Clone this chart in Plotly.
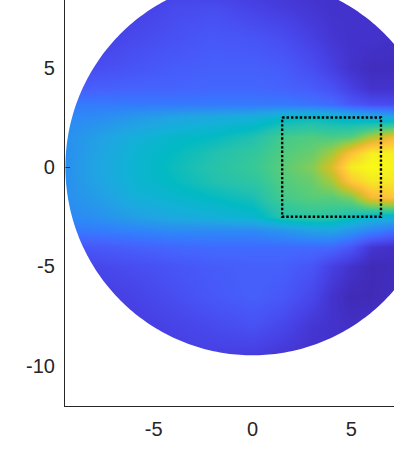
# %% Imports
import numpy as np
import plotly.graph_objects as go

# %% Data
x_grid = [-9.5, -8, -6, -4, -2, 0, 1.5, 3, 4, 5, 6, 7.5]
y_grid = [9, 8, 6.5, 5, 4, 3.2, 2.5, 1.5, 0.7, 0, -0.7, -1.5, -2.5, -3.2, -4, -5, -6.5, -8, -9.5]

z_field = [
    [.06, .07, .08, .09, .08, .07, .06, .05, .05, .05, .04, .04],
    [.07, .07, .09, .12, .13, .10, .08, .06, .05, .05, .05, .05],
    [.08, .09, .12, .14, .16, .15, .13, .09, .06, .05, .05, .04],
    [.11, .13, .15, .17, .18, .18, .17, .13, .09, .05, .03, .03],
    [.17, .18, .19, .19, .20, .20, .19, .17, .14, .09, .05, .05],
    [.25, .25, .25, .25, .25, .25, .25, .23, .21, .16, .13, .12],
    [.29, .30, .34, .38, .40, .42, .46, .48, .46, .44, .41, .38],
    [.31, .36, .42, .46, .48, .52, .59, .61, .60, .62, .72, .85],
    [.31, .37, .44, .48, .52, .56, .61, .64, .71, .85, .97, .97],
    [.31, .38, .44, .49, .53, .57, .62, .67, .78, .96, 1.0, .97],
    [.31, .37, .44, .48, .52, .55, .61, .64, .71, .87, .95, .95],
    [.31, .35, .42, .45, .48, .51, .59, .62, .62, .66, .82, .88],
    [.29, .31, .36, .40, .42, .45, .53, .55, .54, .50, .44, .42],
    [.24, .25, .27, .29, .29, .29, .32, .36, .37, .32, .27, .20],
    [.14, .16, .18, .20, .21, .21, .21, .21, .20, .15, .06, .03],
    [.09, .11, .13, .15, .17, .18, .18, .15, .09, .05, .02, .03],
    [.06, .08, .10, .13, .16, .18, .16, .11, .05, .02, .02, .04],
    [.05, .06, .08, .10, .12, .14, .11, .06, .05, .04, .05, .06],
    [.06, .07, .08, .09, .09, .08, .06, .05, .05, .05, .05, .06],
]

box_x = [1.5, 6.5, 6.5, 1.5, 1.5]
box_y = [2.5, 2.5, -2.5, -2.5, 2.5]

x_ticks = [-5, 0, 5]
x_labels = ["-5", "0", "5"]
y_ticks = [-10, -5, 0, 5]
y_labels = ["-10", "-5", "0", "5"]

# parula, every third entry of the 64 step map
parula = [
    "rgb(62,38,168)", "rgb(67,50,203)", "rgb(71,65,229)", "rgb(72,82,244)",
    "rgb(69,99,253)", "rgb(56,117,254)", "rgb(46,135,247)", "rgb(39,150,235)",
    "rgb(32,165,227)", "rgb(18,177,214)", "rgb(2,186,195)", "rgb(36,193,174)",
    "rgb(55,200,151)", "rgb(87,204,122)", "rgb(129,204,89)", "rgb(171,199,57)",
    "rgb(209,191,39)", "rgb(240,186,54)", "rgb(254,195,56)", "rgb(250,214,45)",
    "rgb(245,233,36)", "rgb(249,251,21)",
]

# %% Globals
RADIUS = 9.47
XMIN, XMAX = -9.49, 7.16
YMIN, YMAX = -12.02, 8.41
TEXT = "#262626"

# %% Plot
fig = go.Figure()
fig.add_trace(go.Heatmap(x=x_grid, y=y_grid, z=z_field, zmin=0, zmax=1,
                         zsmooth="best", colorscale=parula, showscale=False,
                         hoverinfo="skip"))
fig.add_trace(go.Scatter(x=box_x, y=box_y, mode="lines", hoverinfo="skip",
                         line=dict(color="black", width=2.4, dash="2.4px,2px")))

# white outside the disc
theta = np.linspace(0, 2 * np.pi, 361)
ring = " ".join(f"L{RADIUS*np.cos(t):.3f},{RADIUS*np.sin(t):.3f}" for t in theta)
mask = f"M-20,-20 L20,-20 L20,20 L-20,20 Z M{RADIUS:.3f},0 {ring} Z"
fig.add_shape(type="path", path=mask, fillcolor="white", line_width=0, layer="above")

axis = dict(showgrid=False, zeroline=False, showline=True, linecolor=TEXT, linewidth=1.2,
            ticks="inside", ticklen=5, tickwidth=1, tickcolor=TEXT,
            tickfont=dict(family="Liberation Sans", size=20, color=TEXT))
fig.update_xaxes(range=[XMIN, XMAX], tickvals=x_ticks, ticktext=x_labels, ticklabelstandoff=5, **axis)
fig.update_yaxes(range=[YMIN, YMAX], tickvals=y_ticks, ticktext=y_labels, ticklabelstandoff=5, **axis)
fig.update_layout(width=394, height=471, showlegend=False, plot_bgcolor="white",
                  paper_bgcolor="white",
                  margin=dict(l=65, r=0, t=0, b=65))
# page body has a default margin, drop it so the axes land where they should
fig.write_html("out.html", config=dict(displayModeBar=False),
               post_script="document.body.style.margin='0';")
